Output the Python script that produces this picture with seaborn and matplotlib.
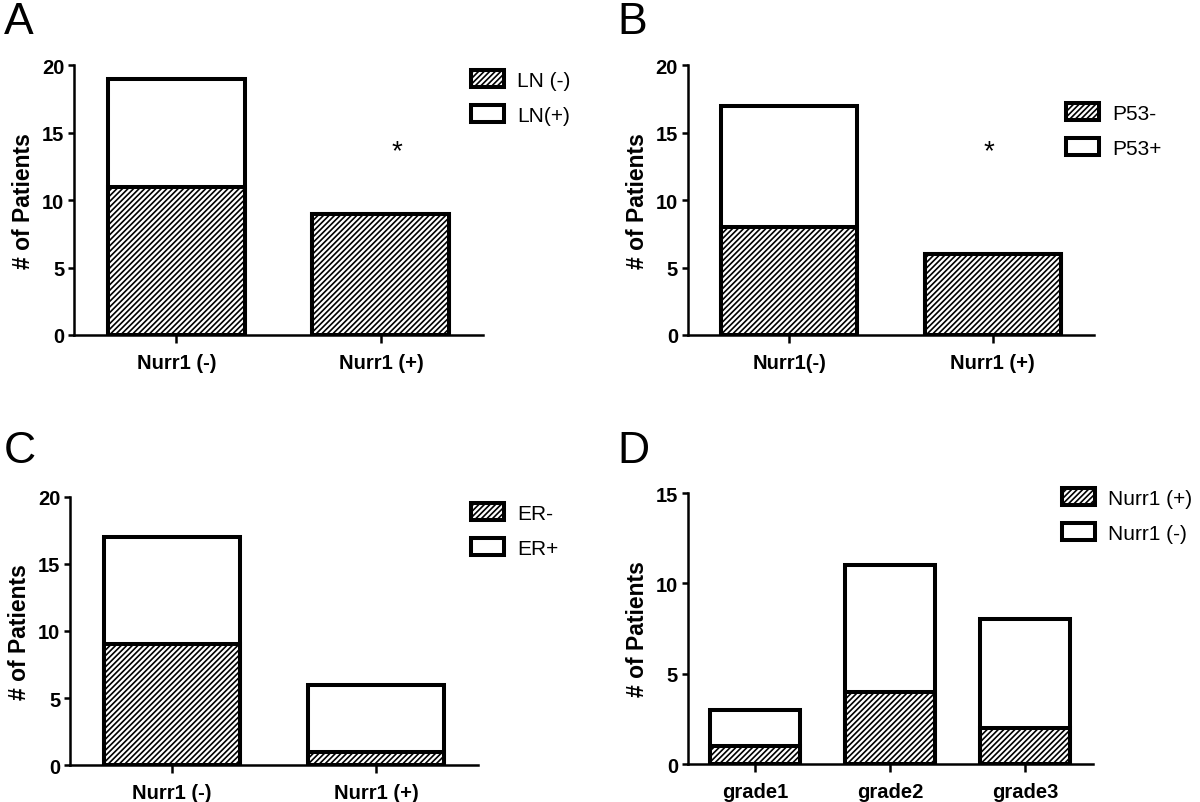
import matplotlib
matplotlib.use("Agg")
import matplotlib.pyplot as plt
import seaborn as sns
import pandas as pd
from matplotlib.patches import Patch

sns.set_theme(style="ticks")
plt.rcParams["font.family"] = ["Liberation Sans", "DejaVu Sans"]
plt.rcParams["hatch.linewidth"] = 1.2
plt.rcParams["hatch.color"] = "black"
for k in ["text.color", "axes.labelcolor", "xtick.color", "ytick.color"]:
    plt.rcParams[k] = "black"

# panel A: lymph node status
a_groups = ["Nurr1 (-)", "Nurr1 (+)"]
a_bottom = [11, 9]   # LN (-)
a_top = [8, 0]       # LN(+)
a_labels = ["LN (-)", "LN(+)"]

# panel B: P53
b_groups = ["Nurr1(-)", "Nurr1 (+)"]
b_bottom = [8, 6]    # P53-
b_top = [9, 0]       # P53+
b_labels = ["P53-", "P53+"]

# panel C: ER
c_groups = ["Nurr1 (-)", "Nurr1 (+)"]
c_bottom = [9, 1]    # ER-
c_top = [8, 5]       # ER+
c_labels = ["ER-", "ER+"]

# panel D: grade
d_groups = ["grade1", "grade2", "grade3"]
d_bottom = [1, 4, 2]  # Nurr1 (+)
d_top = [2, 7, 6]     # Nurr1 (-)
d_labels = ["Nurr1 (+)", "Nurr1 (-)"]

HATCH = "//////"
EDGE = 2.9


def stacked_panel(ax, groups, bottom, top, labels, ymax, yticks, leg_xy, star=None):
    df = pd.DataFrame({"group": groups,
                       "bottom": bottom,
                       "total": [b + t for b, t in zip(bottom, top)]})
    sns.barplot(data=df, x="group", y="total", ax=ax, color="white",
                edgecolor="black", linewidth=EDGE, width=0.67, saturation=1)
    sns.barplot(data=df, x="group", y="bottom", ax=ax, color="white",
                edgecolor="black", linewidth=EDGE, width=0.67, saturation=1,
                hatch=HATCH)
    ax.set_xlim(-0.5, len(groups) - 0.5)
    ax.set_ylim(0, ymax)
    ax.set_yticks(yticks)
    ax.set_xlabel("")
    ax.set_ylabel("# of Patients", fontsize=16.5, fontweight="bold", labelpad=5)
    for lab in ax.get_xticklabels() + ax.get_yticklabels():
        lab.set_fontweight("bold")
        lab.set_fontsize(14.5)
    sns.despine(ax=ax)
    for s in ["left", "bottom"]:
        ax.spines[s].set_linewidth(1.8)
        ax.spines[s].set_color("black")
    ax.tick_params(axis="y", length=4, width=1.8, color="black", pad=3)
    ax.tick_params(axis="x", length=6, width=1.8, color="black", pad=7)
    handles = [Patch(facecolor="white", edgecolor="black", linewidth=EDGE, hatch=HATCH),
               Patch(facecolor="white", edgecolor="black", linewidth=EDGE)]
    fig.legend(handles, labels, loc="upper left",
               bbox_to_anchor=(leg_xy[0] / 1200, 1 - leg_xy[1] / 803),
               frameon=False, fontsize=15, handlelength=1.6, handleheight=0.85,
               handletextpad=0.6, labelspacing=0.75, borderpad=0, borderaxespad=0)
    if star is not None:
        ax.text(star[0], star[1], "*", ha="center", va="center", fontsize=20)


fig = plt.figure(figsize=(12, 8.03), dpi=100)
axA = fig.add_axes([0.0617, 0.5816, 0.341, 0.336])
axB = fig.add_axes([0.573, 0.5816, 0.339, 0.336])
axC = fig.add_axes([0.0583, 0.046, 0.340, 0.334])
axD = fig.add_axes([0.573, 0.0473, 0.3375, 0.3375])

stacked_panel(axA, a_groups, a_bottom, a_top, a_labels, 20, [0, 5, 10, 15, 20],
              (471, 71), star=(1.08, 13.6))
stacked_panel(axB, b_groups, b_bottom, b_top, b_labels, 20, [0, 5, 10, 15, 20],
              (1066, 104), star=(0.98, 13.6))
stacked_panel(axC, c_groups, c_bottom, c_top, c_labels, 20, [0, 5, 10, 15, 20],
              (471, 504))
stacked_panel(axD, d_groups, d_bottom, d_top, d_labels, 15, [0, 5, 10, 15],
              (1062, 489))

for letter, (x, y) in zip("ABCD", [(4, 2), (617, 2), (4, 431), (617, 431)]):
    fig.text(x / 1200, 1 - y / 803, letter, fontsize=32, ha="left", va="top")

plt.savefig("out.png", dpi=100)
